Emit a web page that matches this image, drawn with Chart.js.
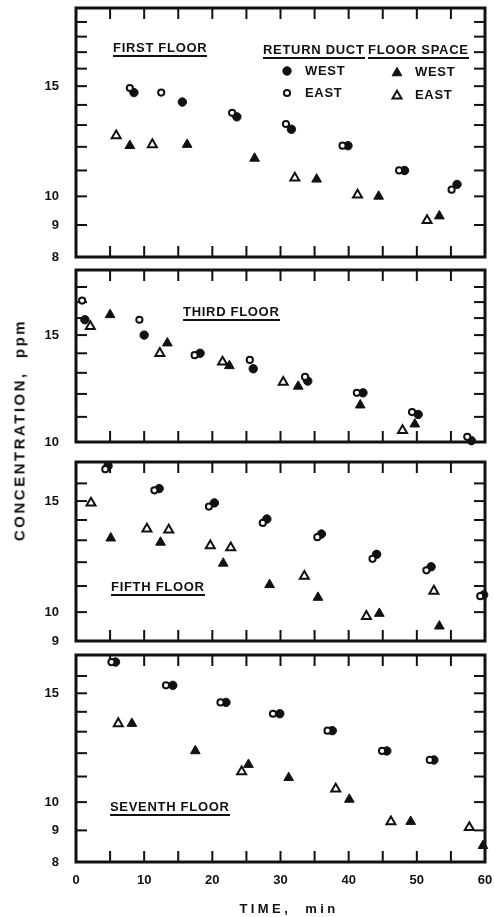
<!DOCTYPE html>
<html>
<head>
<meta charset="utf-8">
<title>Concentration vs time</title>
<script src="https://cdn.jsdelivr.net/npm/chart.js@4/dist/chart.umd.min.js"></script>
<style>
  html, body { margin: 0; padding: 0; background: #fff; }
  #page {
    position: relative; width: 494px; height: 917px; overflow: hidden;
    font-family: "Liberation Sans", Arial, sans-serif; font-weight: bold; color: #111;
  }
  canvas.panel { position: absolute; left: 0; }
  .lbl { position: absolute; font-size: 13px; line-height: 13px; letter-spacing: 0.7px; white-space: nowrap; }
  .ul { border-bottom: 2px solid #111; padding-bottom: 1px; }
  #ytitle {
    position: absolute; left: 19px; top: 430px; font-size: 15px; letter-spacing: 2.5px;
    white-space: pre; transform: translate(-50%, -50%) rotate(-90deg);
  }
  #xtitle {
    position: absolute; left: 289px; top: 908px; font-size: 13px; letter-spacing: 3.4px;
    white-space: pre; transform: translate(-50%, -50%);
  }
</style>
</head>
<body>
<div id="page">
  <canvas id="floor1" class="panel"></canvas>
  <canvas id="floor3" class="panel"></canvas>
  <canvas id="floor5" class="panel"></canvas>
  <canvas id="floor7" class="panel"></canvas>

  <div class="lbl ul" style="left:113px; top:41px">FIRST FLOOR</div>
  <div class="lbl ul" style="left:263px; top:43px">RETURN DUCT</div>
  <div class="lbl ul" style="left:368px; top:43px">FLOOR SPACE</div>
  <div class="lbl" style="left:305px; top:64px">WEST</div>
  <div class="lbl" style="left:305px; top:86px">EAST</div>
  <div class="lbl" style="left:415px; top:65px">WEST</div>
  <div class="lbl" style="left:415px; top:88px">EAST</div>
  <div class="lbl ul" style="left:183px; top:305px">THIRD FLOOR</div>
  <div class="lbl ul" style="left:111px; top:580px">FIFTH FLOOR</div>
  <div class="lbl ul" style="left:110px; top:800px">SEVENTH FLOOR</div>

  <div id="ytitle">CONCENTRATION,  ppm</div>
  <div id="xtitle">TIME,  min</div>
</div>

<script>
// [time (min), concentration (ppm)]

// first floor
const firstDuctWest = [[8.5, 14.65], [15.6, 14.15], [23.6, 13.4], [31.6, 12.8], [39.9, 12.05], [48.2, 11.0], [55.9, 10.45]];
const firstDuctEast = [[7.9, 14.9], [12.5, 14.65], [22.9, 13.6], [30.8, 13.05], [39.1, 12.05], [47.4, 11.0], [55.1, 10.25]];
const firstSpaceWest = [[7.9, 12.05], [16.3, 12.1], [26.2, 11.5], [35.3, 10.65], [44.4, 10.0], [53.3, 9.3]];
const firstSpaceEast = [[5.9, 12.5], [11.2, 12.1], [32.1, 10.7], [41.3, 10.05], [51.5, 9.15]];

// third floor
const thirdDuctWest = [[1.3, 15.9], [10.0, 15.0], [18.2, 14.0], [26.0, 13.2], [34.0, 12.6], [42.1, 12.05], [50.2, 11.1], [58.0, 10.05]];
const thirdDuctEast = [[0.9, 17.1], [9.3, 15.9], [17.4, 13.9], [25.5, 13.65], [33.6, 12.8], [41.2, 12.05], [49.3, 11.2], [57.4, 10.2]];
const thirdSpaceWest = [[5.0, 16.2], [13.4, 14.55], [22.5, 13.35], [32.6, 12.35], [41.7, 11.5], [49.7, 10.7]];
const thirdSpaceEast = [[2.1, 15.5], [12.3, 14.0], [21.5, 13.55], [30.4, 12.55], [47.9, 10.45]];

// fifth floor
const fifthDuctWest = [[4.7, 17.05], [12.2, 15.7], [20.3, 14.9], [28.0, 14.05], [36.0, 13.3], [44.1, 12.35], [52.1, 11.8], [59.8, 10.65]];
const fifthDuctEast = [[4.3, 16.85], [11.5, 15.6], [19.5, 14.7], [27.4, 13.85], [35.4, 13.15], [43.5, 12.15], [51.4, 11.65], [59.3, 10.6]];
const fifthSpaceWest = [[5.1, 13.1], [12.4, 12.9], [21.6, 11.95], [28.4, 11.05], [35.5, 10.55], [44.5, 9.95], [53.3, 9.5]];
const fifthSpaceEast = [[2.2, 14.9], [10.4, 13.55], [13.6, 13.5], [19.7, 12.75], [22.7, 12.65], [33.5, 11.4], [42.6, 9.85], [52.5, 10.8]];

// seventh floor
const seventhDuctWest = [[5.8, 16.85], [14.2, 15.45], [22.0, 14.5], [29.9, 13.9], [37.6, 13.05], [45.6, 12.1], [52.5, 11.7]];
const seventhDuctEast = [[5.2, 16.85], [13.2, 15.45], [21.2, 14.5], [28.9, 13.9], [36.9, 13.05], [44.9, 12.1], [51.9, 11.7]];
const seventhSpaceWest = [[8.2, 13.4], [17.5, 12.1], [25.3, 11.5], [31.2, 10.95], [40.1, 10.1], [49.1, 9.3], [59.7, 8.5]];
const seventhSpaceEast = [[6.2, 13.4], [24.3, 11.2], [38.1, 10.5], [46.2, 9.3], [57.7, 9.1]];

// axis ticks
const timeTicks = [0, 5, 10, 15, 20, 25, 30, 35, 40, 45, 50, 55, 60];
const timeLabels = [0, 10, 20, 30, 40, 50, 60];
const firstLabels = [8, 9, 10, 15];
const thirdLabels = [10, 15];
const fifthLabels = [9, 10, 15];
const seventhLabels = [8, 9, 10, 15];

const INK = "#111";
const FRAME_LEFT = 76;
const FRAME_RIGHT = 485;
const TICK = 11;
const tickFont = { family: "'Liberation Sans', Arial, sans-serif", size: 13, weight: "bold" };

const panels = [
    { id: "floor1", top: 8, bottom: 257, min: 8, max: 20, labels: firstLabels,
      series: [firstDuctEast, firstDuctWest, firstSpaceEast, firstSpaceWest] },
    { id: "floor3", top: 270, bottom: 442, min: 10, max: 19.2, labels: thirdLabels,
      series: [thirdDuctEast, thirdDuctWest, thirdSpaceEast, thirdSpaceWest] },
    { id: "floor5", top: 462, bottom: 641, min: 9, max: 17.3, labels: fifthLabels,
      series: [fifthDuctEast, fifthDuctWest, fifthSpaceEast, fifthSpaceWest] },
    { id: "floor7", top: 655, bottom: 862, min: 8, max: 17.3, labels: seventhLabels,
      series: [seventhDuctEast, seventhDuctWest, seventhSpaceEast, seventhSpaceWest] }
];

// same order as panel.series: open circle, filled circle, open triangle, filled triangle
const markers = [
    { pointStyle: "circle", pointRadius: 3.1, backgroundColor: "#fff", borderColor: INK, borderWidth: 2 },
    { pointStyle: "circle", pointRadius: 4.2, backgroundColor: INK, borderColor: INK, borderWidth: 1 },
    { pointStyle: "triangle", pointRadius: 5.2, backgroundColor: "#fff", borderColor: INK, borderWidth: 2 },
    { pointStyle: "triangle", pointRadius: 5.6, backgroundColor: INK, borderColor: INK, borderWidth: 1 }
];

function intTicks(min, max) {
    const out = [];
    for (let v = Math.ceil(min); v <= Math.floor(max); v++) out.push(v);
    return out;
}

function line(ctx, x1, y1, x2, y2) {
    ctx.beginPath();
    ctx.moveTo(x1, y1);
    ctx.lineTo(x2, y2);
    ctx.stroke();
}

// box round the plot, with the short ticks pointing inwards on all four sides
const framePlugin = {
    id: "frame",
    beforeDatasetsDraw(chart) {
        const { ctx, chartArea: a, scales: { x, y } } = chart;
        ctx.save();
        ctx.strokeStyle = INK;
        ctx.lineWidth = 2;
        x.ticks.forEach(t => {
            if (t.value <= 0 || t.value >= 60) return;
            const px = x.getPixelForValue(t.value);
            line(ctx, px, a.top, px, a.top + TICK);
            line(ctx, px, a.bottom, px, a.bottom - TICK);
        });
        y.ticks.forEach(t => {
            const py = y.getPixelForValue(t.value);
            if (py < a.top + 5 || py > a.bottom - 5) return;
            line(ctx, a.left, py, a.left + TICK, py);
            line(ctx, a.right, py, a.right - TICK, py);
        });
        ctx.lineWidth = 3;
        ctx.strokeRect(a.left, a.top, a.right - a.left, a.bottom - a.top);
        ctx.restore();
    }
};

// legend symbols in the first floor panel (page coordinates)
const legendMarks = [
    { m: 1, x: 287, y: 71 },
    { m: 0, x: 287, y: 93 },
    { m: 3, x: 397, y: 73 },
    { m: 2, x: 397, y: 96 }
];

function legendPlugin(offsetTop) {
    return {
        id: "legendMarks",
        afterDatasetsDraw(chart) {
            const ctx = chart.ctx;
            ctx.save();
            legendMarks.forEach(l => {
                const mk = markers[l.m];
                ctx.fillStyle = mk.backgroundColor;
                ctx.strokeStyle = mk.borderColor;
                ctx.lineWidth = mk.borderWidth;
                Chart.helpers.drawPoint(ctx, {
                    pointStyle: mk.pointStyle, radius: mk.pointRadius, rotation: 0, borderWidth: mk.borderWidth
                }, l.x, l.y - offsetTop);
            });
            ctx.restore();
        }
    };
}

function makePanel(p, isBottom, isFirst) {
    const canvas = document.getElementById(p.id);
    const padTop = 12;
    const padBottom = isBottom ? 0 : 12;
    const xAxisH = isBottom ? 40 : 0;
    canvas.width = 494;
    canvas.height = (p.bottom - p.top) + padTop + padBottom + xAxisH;
    canvas.style.top = (p.top - padTop) + "px";

    const datasets = p.series.map((pts, i) => Object.assign({
        data: pts.map(([t, c]) => ({ x: t, y: c })),
        showLine: false,
        clip: false
    }, markers[i]));

    const extra = [framePlugin];
    if (isFirst) extra.push(legendPlugin(p.top - padTop));

    return new Chart(canvas, {
        type: "scatter",
        data: { datasets },
        options: {
            responsive: false,
            animation: false,
            events: [],
            layout: { padding: { left: 0, right: 494 - FRAME_RIGHT, top: padTop, bottom: padBottom } },
            plugins: { legend: { display: false }, tooltip: { enabled: false } },
            scales: {
                x: {
                    type: "linear", min: 0, max: 60,
                    afterBuildTicks: s => { s.ticks = timeTicks.map(v => ({ value: v })); },
                    afterFit: s => { s.height = xAxisH; },
                    // tick marks are drawn by the frame plugin; the tick length only spaces the labels
                    grid: { display: false, drawTicks: true, tickLength: 11 },
                    border: { display: false },
                    ticks: {
                        display: isBottom, autoSkip: false, maxRotation: 0, padding: 0,
                        color: INK, font: tickFont,
                        callback: v => timeLabels.includes(v) ? String(v) : ""
                    }
                },
                y: {
                    type: "logarithmic", min: p.min, max: p.max,
                    afterBuildTicks: s => { s.ticks = intTicks(p.min, p.max).map(v => ({ value: v })); },
                    afterFit: s => { s.width = FRAME_LEFT; },
                    grid: { display: false, drawTicks: true, tickLength: 14 },
                    border: { display: false },
                    ticks: {
                        autoSkip: false, padding: 3, color: INK, font: tickFont,
                        callback: v => p.labels.includes(v) ? String(v) : ""
                    }
                }
            }
        },
        plugins: extra
    });
}

panels.forEach((p, i) => makePanel(p, i === panels.length - 1, i === 0));
</script>
</body>
</html>
